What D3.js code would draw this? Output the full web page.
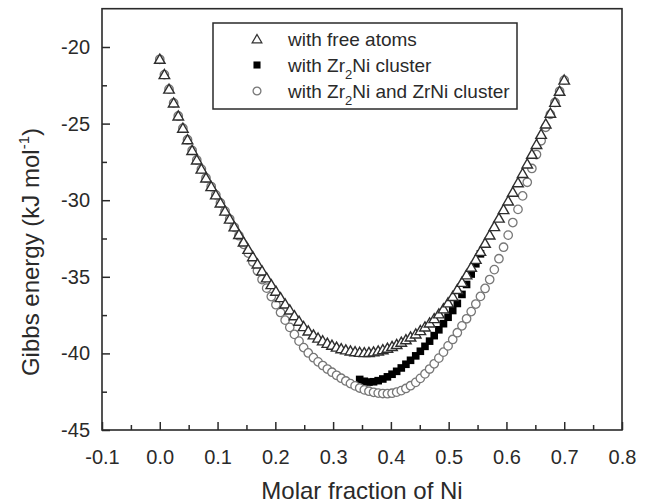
<!DOCTYPE html>
<html>
<head>
<meta charset="utf-8">
<script src="https://cdn.jsdelivr.net/npm/d3@7"></script>
<style>
  body { margin: 0; background: #fff; }
  svg { display: block; font-family: "Liberation Sans", Arial, sans-serif; }
</style>
</head>
<body>
<div id="chart"></div>
<script>
// molar fraction of Ni (sampling points)
const molarFraction = [
  0.000, 0.008, 0.016, 0.024, 0.032, 0.040, 0.048, 0.056, 0.064, 0.072, 0.080, 0.089, 0.097,
  0.105, 0.113, 0.121, 0.129, 0.137, 0.145, 0.153, 0.161, 0.169, 0.177, 0.185, 0.193, 0.201,
  0.209, 0.217, 0.225, 0.233, 0.241, 0.249, 0.257, 0.266, 0.274, 0.282, 0.290, 0.298,
  0.306, 0.314, 0.322, 0.330, 0.338, 0.346, 0.354, 0.362, 0.370, 0.378, 0.386, 0.394,
  0.402, 0.410, 0.418, 0.426, 0.434, 0.443, 0.451, 0.459, 0.467, 0.475, 0.483, 0.491,
  0.499, 0.507, 0.515, 0.523, 0.531, 0.539, 0.547, 0.555, 0.563, 0.571, 0.579, 0.587,
  0.595, 0.603, 0.611, 0.620, 0.628, 0.636, 0.644, 0.652, 0.660, 0.668, 0.676, 0.684,
  0.692, 0.700
];

// Gibbs energy, kJ/mol
const freeAtoms = [
  -20.80, -21.80, -22.75, -23.65, -24.50, -25.30, -26.05, -26.75,
  -27.37, -27.97, -28.55, -29.11, -29.65,
  -30.18, -30.71, -31.23, -31.74, -32.24, -32.73, -33.21, -33.69, -34.16, -34.62, -35.07, -35.51, -35.94,
  -36.36, -36.77, -37.16, -37.54, -37.90, -38.25,
  -38.54, -38.79, -39.00, -39.18, -39.34, -39.47,
  -39.59, -39.69, -39.77, -39.84, -39.89, -39.93, -39.95,
  -39.94, -39.90, -39.84, -39.76, -39.66, -39.55, -39.42, -39.27, -39.11, -38.93,
  -38.73, -38.51, -38.27, -38.01, -37.73, -37.42, -37.09,
  -36.70, -36.28, -35.83, -35.36, -34.87, -34.37, -33.86, -33.34,
  -32.81, -32.27, -31.72, -31.17, -30.61, -30.05, -29.48,
  -28.86, -28.25, -27.63, -27.00, -26.36,
  -25.70, -25.02, -24.32, -23.61, -22.89, -22.16
];

const withBothClusters = [
  -20.80, -21.80, -22.75, -23.65, -24.50, -25.30, -26.05, -26.75, -27.37, -27.97, -28.55, -29.11, -29.65, -30.18, -30.71, -31.23,
  -31.77, -32.32, -32.88, -33.45, -34.03, -34.61, -35.18, -35.74, -36.29, -36.82, -37.33, -37.83, -38.30, -38.76, -39.20, -39.62,
  -39.97, -40.28, -40.55, -40.79, -41.02, -41.23, -41.43, -41.62, -41.80, -41.97, -42.12, -42.26, -42.38, -42.47, -42.54, -42.59,
  -42.62, -42.63, -42.60, -42.53, -42.43, -42.29, -42.11, -41.89, -41.63, -41.34, -41.02, -40.68, -40.31, -39.92, -39.51, -39.09,
  -38.65, -38.20, -37.74, -37.27, -36.78, -36.28, -35.76, -35.18, -34.53, -33.82, -33.07, -32.28, -31.46, -30.60, -29.72, -28.83,
  -27.93, -27.02, -26.12, -25.24, -24.40, -23.62, -22.89, -22.16
];

// Zr2Ni cluster only (visible part)
const zr2niFraction = [
  0.346, 0.354, 0.362, 0.370, 0.378, 0.386, 0.394, 0.402, 0.410, 0.418, 0.426, 0.434, 0.443, 0.451,
  0.459, 0.467, 0.475, 0.483, 0.491, 0.499, 0.507, 0.515, 0.523, 0.531, 0.539, 0.547, 0.555
];
const withZr2Ni = [
  -41.70, -41.82, -41.87, -41.85, -41.78, -41.67, -41.53, -41.36, -41.17, -40.95, -40.71, -40.45, -40.16, -39.86,
  -39.54, -39.20, -38.84, -38.46, -38.06, -37.64, -37.20, -36.74, -36.15, -35.50, -34.82, -34.15, -33.50
];

const xTicks = [-0.1, 0.0, 0.1, 0.2, 0.3, 0.4, 0.5, 0.6, 0.7, 0.8];
const xMinor = [-0.05, 0.05, 0.15, 0.25, 0.35, 0.45, 0.55, 0.65, 0.75];
const yTicks = [-45, -40, -35, -30, -25, -20];
const yMinor = [-42.5, -37.5, -32.5, -27.5, -22.5];

const width = 649, height = 504;
const margin = { top: 8.7, right: 27, bottom: 74, left: 102 };

const svg = d3.select("#chart").append("svg")
    .attr("width", width)
    .attr("height", height);

const x = d3.scaleLinear()
    .domain([-0.1, 0.8])
    .range([margin.left, width - margin.right]);

const y = d3.scaleLinear()
    .domain([-45, -17.5])
    .range([height - margin.bottom, margin.top]);

const ink = "#2a2a2a";

// Axes (ticks inward)
const gx = svg.append("g")
    .attr("transform", `translate(0,${height - margin.bottom})`)
    .call(d3.axisBottom(x).tickValues(xTicks).tickSizeInner(-8).tickSizeOuter(0)
        .tickPadding(0).tickFormat(d => d.toFixed(1)));
gx.select(".domain").remove();
gx.selectAll("text").attr("dy", null).attr("y", 34).attr("font-size", 20).attr("fill", ink);

const gxm = svg.append("g")
    .attr("transform", `translate(0,${height - margin.bottom})`)
    .call(d3.axisBottom(x).tickValues(xMinor).tickSizeInner(-5).tickSizeOuter(0).tickFormat(""));
gxm.select(".domain").remove();

const gy = svg.append("g")
    .attr("transform", `translate(${margin.left},0)`)
    .call(d3.axisLeft(y).tickValues(yTicks).tickSizeInner(-8).tickSizeOuter(0)
        .tickPadding(12).tickFormat(d => String(d)));
gy.select(".domain").remove();
gy.selectAll("text").attr("font-size", 20).attr("fill", ink);

const gym = svg.append("g")
    .attr("transform", `translate(${margin.left},0)`)
    .call(d3.axisLeft(y).tickValues(yMinor).tickSizeInner(-5).tickSizeOuter(0).tickFormat(""));
gym.select(".domain").remove();

svg.selectAll(".tick line").attr("stroke", ink).attr("stroke-width", 1.5);

// Frame
svg.append("rect")
    .attr("x", margin.left)
    .attr("y", margin.top)
    .attr("width", width - margin.left - margin.right)
    .attr("height", height - margin.top - margin.bottom)
    .attr("fill", "none")
    .attr("stroke", ink)
    .attr("stroke-width", 1.6);

// Series
const tri = d3.symbol().type(d3.symbolTriangle).size(48);
const sq = d3.symbol().type(d3.symbolSquare).size(58);
const circ = d3.symbol().type(d3.symbolCircle).size(56);

svg.append("g").selectAll("path")
    .data(zr2niFraction.map((v, i) => [v, withZr2Ni[i]]))
    .join("path")
    .attr("d", sq)
    .attr("transform", d => `translate(${x(d[0])},${y(d[1])})`)
    .attr("fill", "#000");

svg.append("g").selectAll("path")
    .data(molarFraction.map((v, i) => [v, withBothClusters[i]]))
    .join("path")
    .attr("d", circ)
    .attr("transform", d => `translate(${x(d[0])},${y(d[1])})`)
    .attr("fill", "#fff")
    .attr("stroke", "#777")
    .attr("stroke-width", 1.3);

svg.append("g").selectAll("path")
    .data(molarFraction.map((v, i) => [v, freeAtoms[i]]))
    .join("path")
    .attr("d", tri)
    .attr("transform", d => `translate(${x(d[0])},${y(d[1]) + 1})`)
    .attr("fill", "#fff")
    .attr("stroke", "#2e2e2e")
    .attr("stroke-width", 1.4);

// Legend
const legend = svg.append("g");
legend.append("rect")
    .attr("x", 213).attr("y", 23)
    .attr("width", 304).attr("height", 86)
    .attr("fill", "#fff")
    .attr("stroke", ink)
    .attr("stroke-width", 1.5);

const rows = [39, 65, 91];
legend.append("path").attr("d", d3.symbol().type(d3.symbolTriangle).size(40)).attr("transform", `translate(257,${rows[0] + 1})`)
    .attr("fill", "#fff").attr("stroke", "#333").attr("stroke-width", 1.3);
legend.append("path").attr("d", d3.symbol().type(d3.symbolSquare).size(50)).attr("transform", `translate(257,${rows[1]})`)
    .attr("fill", "#000");
legend.append("path").attr("d", d3.symbol().type(d3.symbolCircle).size(48)).attr("transform", `translate(257,${rows[2]})`)
    .attr("fill", "#fff").attr("stroke", "#777").attr("stroke-width", 1.3);

const lt = (row) => legend.append("text")
    .attr("x", 288).attr("y", row + 7)
    .attr("font-size", 19).attr("fill", ink);

lt(rows[0]).text("with free atoms");
const l2 = lt(rows[1]);
l2.append("tspan").text("with Zr");
l2.append("tspan").attr("font-size", 13).attr("dy", 7).text("2");
l2.append("tspan").attr("dy", -7).text("Ni cluster");
const l3 = lt(rows[2]);
l3.append("tspan").text("with Zr");
l3.append("tspan").attr("font-size", 13).attr("dy", 7).text("2");
l3.append("tspan").attr("dy", -7).text("Ni and ZrNi cluster");

// Axis titles
svg.append("text")
    .attr("x", (margin.left + width - margin.right) / 2)
    .attr("y", 499)
    .attr("text-anchor", "middle")
    .attr("font-size", 24)
    .attr("fill", ink)
    .text("Molar fraction of Ni");

const yt = svg.append("text")
    .attr("transform", "translate(39,252) rotate(-90)")
    .attr("text-anchor", "middle")
    .attr("font-size", 24)
    .attr("fill", ink);
yt.append("tspan").text("Gibbs energy (kJ mol");
yt.append("tspan").attr("font-size", 15).attr("dy", -10).text("-1");
yt.append("tspan").attr("dy", 10).text(")");
</script>
</body>
</html>
